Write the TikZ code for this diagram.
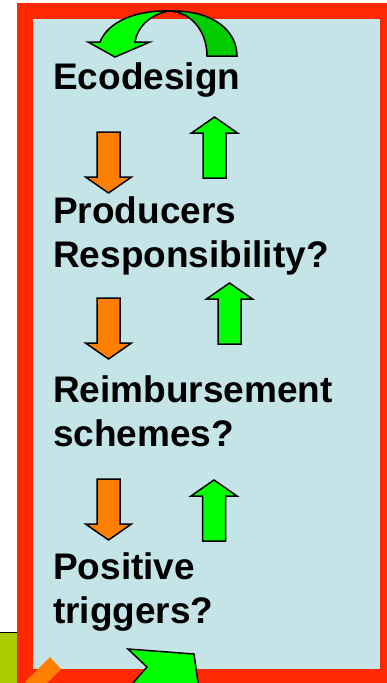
\documentclass[tikz,border=0pt]{standalone}
\usepackage{fontspec}
\setmainfont{Liberation Sans}
\definecolor{framered}{RGB}{255,40,0}
\definecolor{paleblue}{RGB}{196,228,232}
\definecolor{arroworange}{RGB}{255,128,0}
\definecolor{arrowgreen}{RGB}{0,255,0}
\definecolor{darkgreen}{RGB}{0,204,0}
\definecolor{limegreen}{RGB}{170,204,0}
\tikzset{
  steplabel/.style={anchor=base west, inner sep=0pt, align=left,
    font=\fontsize{37}{44}\selectfont\bfseries},
  downarrow/.style={draw=black, line width=1.5pt, fill=arroworange, line join=miter},
  uparrow/.style={draw=black, line width=1.5pt, fill=arrowgreen, line join=miter}
}
\begin{document}
\begin{tikzpicture}[x=1pt, y=-1pt]
      \useasboundingbox (0,0) rectangle (387,683);
      \clip (0,0) rectangle (387,683);
      % bits of the slide behind
      \fill[limegreen] (0,632) rectangle (17,690);
      \draw[line width=1pt] (0,632) -- (17,632);
      % frame
      \fill[framered] (17,3) rectangle (400,700);
      \fill[paleblue] (33,19) rectangle (380,669);
      \fill[arroworange] (50,657) -- (61,669) -- (36,694) -- (25,682) -- cycle;
      % curved arrow on top
      \draw[line width=1.5pt, fill=darkgreen] (170,11) .. controls (212,10) and (237,30) .. (237,56)
        -- (207,56) .. controls (207,34) and (194,13) .. (170,11) -- cycle;
      \draw[uparrow] (88,42) -- (100,42) .. controls (108,22) and (135,10) .. (170,11)
        .. controls (154,13) and (138,24) .. (135,42) -- (150,42) -- (115,57) -- cycle;
      % texts (base is the last line)
      \node[steplabel] (eco) at (53,89) {Ecodesign};
      \node[steplabel] (prod) at (53,267) {Producers\\Responsibility?};
      \node[steplabel] (reim) at (53,446) {Reimbursement\\schemes?};
      \node[steplabel] (pos) at (53,623) {Positive\\triggers?};
      % arrows down
      \foreach \x/\y in {108.5/132, 108.5/298, 108.5/479}
        \draw[downarrow] (\x-11.5,\y) -- (\x+11.5,\y) -- (\x+11.5,\y+45) -- (\x+23,\y+45)
          -- (\x,\y+61) -- (\x-23,\y+45) -- (\x-11.5,\y+45) -- cycle;
      % arrows up
      \foreach \x/\y in {214.5/117, 229.5/283, 214/480}
        \draw[uparrow] (\x,\y) -- (\x+23,\y+16) -- (\x+11.5,\y+16) -- (\x+11.5,\y+61)
          -- (\x-11.5,\y+61) -- (\x-11.5,\y+16) -- (\x-23,\y+16) -- cycle;
      % arrow leaving at the bottom
      \draw[uparrow] (128,649) -- (194,654) -- (199,690) -- (127,690) -- (147,667) -- cycle;
    \end{tikzpicture}
\end{document}
